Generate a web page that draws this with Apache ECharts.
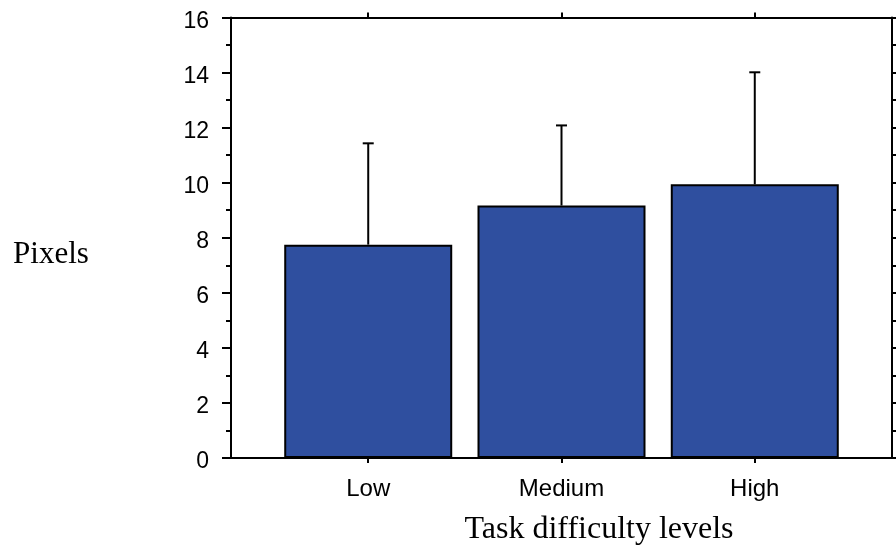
<!DOCTYPE html>
<html>
<head>
<meta charset="utf-8">
<script src="https://cdn.jsdelivr.net/npm/echarts@6/dist/echarts.min.js"></script>
<style>html,body{margin:0;padding:0;background:#fff;}#c{width:896px;height:549px;}</style>
</head>
<body>
<div id="c"></div>
<script>
const categories = ['Low', 'Medium', 'High'];
const categoryPositions = [1, 2, 3];
const means = [7.75, 9.17, 9.94];
const upperErrors = [11.43, 12.08, 14.01];
const yAxisTitle = 'Pixels';
const xAxisTitle = 'Task difficulty levels';

const barData = categoryPositions.map((x, i) => [x, means[i]]);
const errData = categoryPositions.map((x, i) => [x, means[i], upperErrors[i]]);

const chart = echarts.init(document.getElementById('c'));
const axisLineStyle = { color: '#000', width: 2 };
const sans = '"Liberation Sans", Arial, sans-serif';
const serif = '"Liberation Serif", "Times New Roman", serif';

chart.setOption({
  animation: false,
  backgroundColor: '#fff',
  grid: { left: 231, right: 4, top: 17.5, bottom: 91, containLabel: false },
  xAxis: [
    {
      type: 'value', position: 'bottom', min: 0.29, max: 3.71,
      axisLine: { show: true, onZero: false, lineStyle: axisLineStyle },
      axisTick: { show: true, customValues: categoryPositions, length: 5, lineStyle: axisLineStyle },
      axisLabel: { show: true, customValues: categoryPositions, margin: 19,
        formatter: v => categories[Math.round(v) - 1] || '',
        color: '#000', fontFamily: sans, fontSize: 24 },
      splitLine: { show: false }
    },
    {
      type: 'value', position: 'top', min: 0.29, max: 3.71,
      axisLine: { show: true, onZero: false, lineStyle: axisLineStyle },
      axisTick: { show: true, customValues: categoryPositions, length: 5, lineStyle: axisLineStyle },
      axisLabel: { show: false },
      splitLine: { show: false }
    }
  ],
  yAxis: [
    {
      type: 'value', position: 'left', min: 0, max: 16, interval: 2,
      axisLine: { show: true, onZero: false, lineStyle: axisLineStyle },
      axisTick: { show: true, length: 9, lineStyle: axisLineStyle },
      minorTick: { show: true, splitNumber: 2, length: 5, lineStyle: { color: '#000', width: 2 } },
      axisLabel: { color: '#000', fontFamily: sans, fontSize: 23, margin: 22, verticalAlign: 'top', lineHeight: 8 },
      splitLine: { show: false }, minorSplitLine: { show: false }
    },
    {
      type: 'value', position: 'right', min: 0, max: 16, interval: 2,
      axisLine: { show: true, onZero: false, lineStyle: axisLineStyle },
      axisTick: { show: true, length: 9, lineStyle: axisLineStyle },
      minorTick: { show: true, splitNumber: 2, length: 5, lineStyle: { color: '#000', width: 2 } },
      axisLabel: { show: false },
      splitLine: { show: false }, minorSplitLine: { show: false }
    }
  ],
  series: [
    {
      type: 'bar', xAxisIndex: 0, yAxisIndex: 0, data: barData, barWidth: 168,
      itemStyle: { color: '#2F4F9F', borderColor: '#000', borderWidth: 2 },
      z: 2
    },
    {
      type: 'custom', xAxisIndex: 0, yAxisIndex: 0, data: errData, z: 5,
      renderItem: (params, api) => {
        const x = api.value(0), m = api.value(1), e = api.value(2);
        const p0 = api.coord([x, m]);
        const p1 = api.coord([x, e]);
        const st = { stroke: '#000', lineWidth: 2 };
        return { type: 'group', children: [
          { type: 'line', shape: { x1: p0[0], y1: p0[1], x2: p1[0], y2: p1[1] }, style: st },
          { type: 'line', shape: { x1: p1[0] - 5.5, y1: p1[1], x2: p1[0] + 5.5, y2: p1[1] }, style: st }
        ] };
      }
    }
  ],
  graphic: [
    { type: 'text', x: 51, y: 254.5, style: { text: yAxisTitle, font: '31px ' + serif, fill: '#000', textAlign: 'center', textVerticalAlign: 'middle' } },
    { type: 'text', x: 599, y: 530, style: { text: xAxisTitle, font: '32px ' + serif, fill: '#000', textAlign: 'center', textVerticalAlign: 'middle' } }
  ]
});
</script>
</body>
</html>
